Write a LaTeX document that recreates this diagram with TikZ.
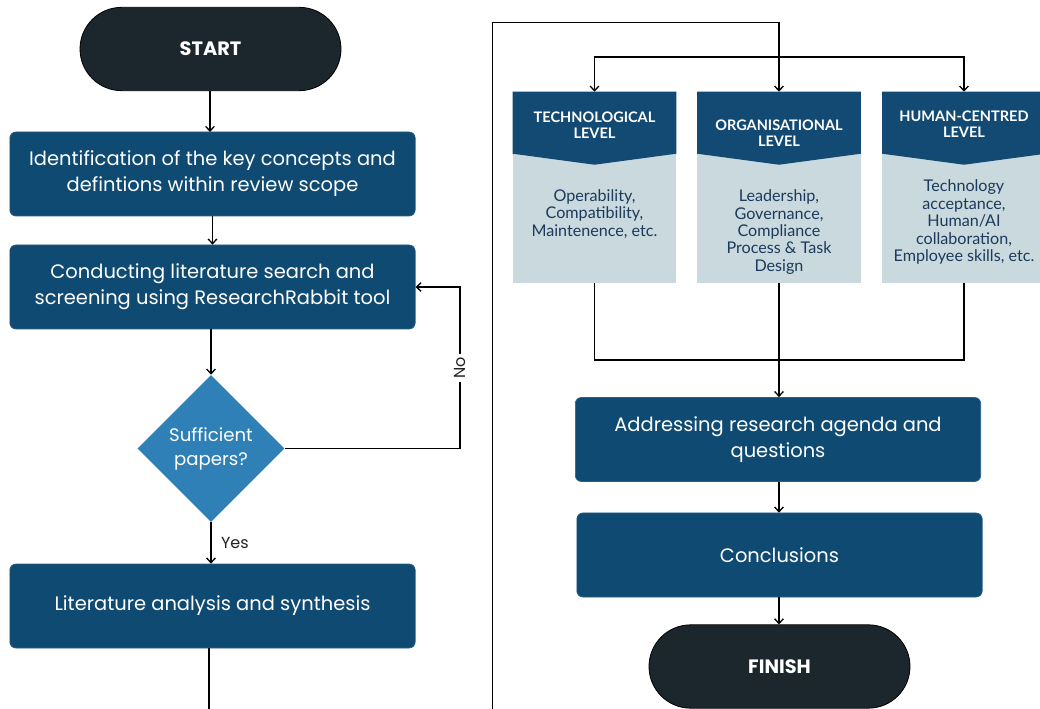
\documentclass[tikz,border=0pt]{standalone}
\usepackage{fontspec}
\setmainfont{Poppins}
\newfontfamily\lato{Lato}
\usetikzlibrary{arrows.meta,shapes.geometric,shapes.misc,calc}
\definecolor{pill}{HTML}{1C262D}
\definecolor{boxblue}{HTML}{0F4A72}
\definecolor{boxedge}{HTML}{2A5E85}
\definecolor{diablue}{HTML}{3080B8}
\definecolor{lvlhead}{HTML}{124A73}
\definecolor{lvlbody}{HTML}{C9D9DD}
\definecolor{lvltext}{HTML}{1B3A5C}
\definecolor{lbl}{HTML}{222222}
\begin{document}
\begin{tikzpicture}[x=0.75pt,y=-0.75pt,
  conn/.style={line width=1pt,draw=black},
  arr/.style={conn,-{Straight Barb[length=3.5pt,width=6.5pt]}},
  pillnode/.style={rounded rectangle,fill=pill,draw=black,line width=0.6pt,text=white,
     minimum width=195.75pt,minimum height=62.5pt,inner sep=0pt,
     font=\fontsize{14.5}{17}\selectfont\bfseries},
  procbox/.style={rectangle,rounded corners=4.5pt,fill=boxblue,draw=boxedge,line width=0.5pt,
     text=white,align=center,minimum width=304pt,minimum height=63pt,inner sep=0pt,
     font=\fontsize{14.6}{19.5}\selectfont},
  decbox/.style={diamond,fill=diablue,text=white,align=center,inner sep=0pt,
     minimum width=110.25pt,minimum height=110.25pt,font=\fontsize{13.6}{18}\selectfont},
  lvlbox/.style={rectangle,inner sep=0pt,minimum width=122.25pt,minimum height=143.25pt},
  lvlhtext/.style={text=white,align=center,inner sep=0pt,font=\lato\bfseries\fontsize{10.9}{12}\selectfont},
  lvlbtext/.style={text=lvltext,align=center,inner sep=0pt,font=\lato\fontsize{12.1}{13.1}\selectfont},
  lbltext/.style={text=lbl,font=\fontsize{12}{14}\selectfont}
]
\useasboundingbox (0,0) rectangle (1040,709);
\fill[white] (0,0) rectangle (1040,709);

% left column
\node[pillnode] (start) at (210.5,49) {START};
\node[procbox] (box1) at (212.5,174) {Identification of the key concepts and\\defintions within review scope};
\node[procbox] (box2) at (212.5,287) {Conducting literature search and\\screening using ResearchRabbit tool};
\node[decbox] (dia) at (211,448.5) {Sufficient\\papers?};
\node[procbox] (box3) at (212.5,606) {Literature analysis and synthesis};

\draw[arr] (start.south -| 210,0) -- (210,132);
\draw[arr] (box1.south) -- (box2.north);
\draw[arr] (box2.south -| dia.north) -- (dia.north);
\draw[arr] (dia.south) -- node[right,lbltext,inner sep=7pt]{Yes} (box3.north -| dia.south);
\coordinate (nc) at (460,0);
\draw[arr] (dia.east) -- (dia.east -| nc) -- node[fill=white,rotate=90,lbltext,inner sep=2.5pt]{No} (box2.east -| nc) -- (box2.east);

\coordinate (leftend) at (209,709);
\draw[conn] (box3.south -| leftend) -- (leftend);

% right column
\node[lvlbox] (tech) at (594.5,187.5) {};
\node[lvlbox] (org) at (779,187.5) {};
\node[lvlbox] (hum) at (964,187.5) {};
\foreach \n in {tech,org,hum}{
  \fill[lvlbody] (\n.north west) rectangle (\n.south east);
  \fill[lvlhead] (\n.north west) -- (\n.north east) -- ($(\n.north east)+(0,62)$)
     -- ($(\n.north)+(0,73)$) -- ($(\n.north west)+(0,62)$) -- cycle;
}
\node[lvlhtext] (techh) at (594.5,125) {TECHNOLOGICAL\\LEVEL};
\node[lvlhtext] (orgh) at (779,133) {ORGANISATIONAL\\LEVEL};
\node[lvlhtext] (humh) at (964,124) {HUMAN-CENTRED\\LEVEL};
\node[lvlbtext] (techb) at (594.5,214) {Operability,\\Compatibility,\\Maintenence, etc.};
\node[lvlbtext] (orgb) at (779,232) {Leadership,\\Governance,\\Compliance\\Process \& Task\\Design};
\node[lvlbtext] (humb) at (964,222) {Technology\\acceptance,\\Human/AI\\collaboration,\\Employee skills, etc.};

\coordinate (rightstart) at (492.5,709);
\coordinate (topturn) at (492.5,22.5);
\draw[arr] (rightstart) -- (topturn) -- (topturn -| org.north) -- (org.north);
\coordinate (jt) at (779,57);
\draw[arr] (jt) -| (tech.north);
\draw[arr] (jt) -| (hum.north);

\node[procbox] (box4) at (778,439.5) {Addressing research agenda and\\questions};
\node[procbox] (box5) at (779.5,555) {Conclusions};
\node[pillnode] (finish) at (779.5,666.5) {FINISH};

\coordinate (jb) at (779,360);
\draw[conn] (tech.south) |- (jb);
\draw[conn] (hum.south) |- (jb);
\draw[arr] (org.south) -- (org.south |- box4.north);
\draw[arr] (box4.south -| 779,0) -- (box5.north -| 779,0);
\draw[arr] (box5.south -| 779,0) -- (finish.north -| 779,0);
\end{tikzpicture}
\end{document}
